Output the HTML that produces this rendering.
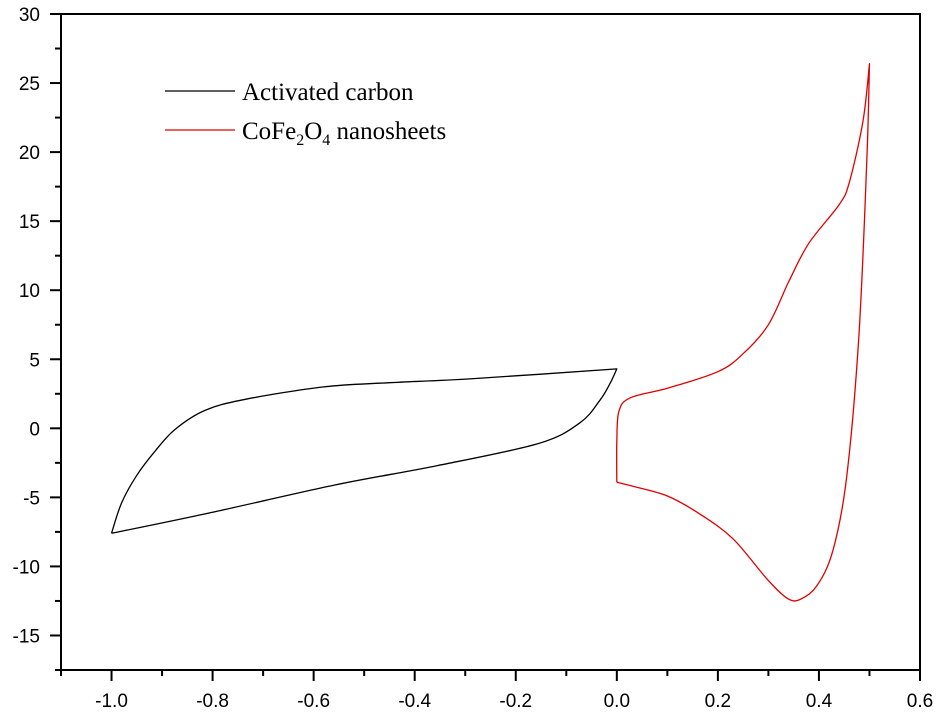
<!DOCTYPE html>
<html><head><meta charset="utf-8"><style>
body{margin:0;background:#fff}
svg{display:block}
.tk{font-family:"Liberation Sans",Arial,sans-serif;font-size:19px;fill:#000}
.lg{font-family:"Liberation Serif",serif;font-size:25px;fill:#000}
</style></head><body>
<svg id="chart" width="937" height="723">
<g id="axes"></g>
<g id="series"></g>
<g>
<line x1="165" y1="91" x2="235" y2="91" stroke="#000" stroke-width="1.3"/>
<text class="lg" x="242" y="100">Activated carbon</text>
<line x1="165" y1="130" x2="235" y2="130" stroke="#e00000" stroke-width="1.3"/>
<text class="lg" x="242" y="139">CoFe<tspan font-size="16" dy="6">2</tspan><tspan dy="-6">O</tspan><tspan font-size="16" dy="6">4</tspan><tspan dy="-6"> nanosheets</tspan></text>
</g>
</svg>
<script>
const xTicks=[-1.0,-0.8,-0.6,-0.4,-0.2,0.0,0.2,0.4,0.6];
const xTickLabels=["-1.0","-0.8","-0.6","-0.4","-0.2","0.0","0.2","0.4","0.6"];
const yTicks=[-15,-10,-5,0,5,10,15,20,25,30];
const yTickLabels=["-15","-10","-5","0","5","10","15","20","25","30"];
const carbonX=[-1.0,-0.815,-0.557,-0.355,-0.155,-0.073,-0.034,-0.014,0.0,-0.283,-0.45,-0.58,-0.735,-0.815,-0.875,-0.915,-0.95,-0.98,-1.0];
const carbonY=[-7.6,-6.2,-4.1,-2.7,-1.1,0.4,2.0,3.2,4.3,3.6,3.3,3.0,2.1,1.3,-0.1,-1.7,-3.4,-5.4,-7.6];
const cofeX=[0.0,0.0,0.004,0.026,0.1,0.2,0.25,0.3,0.34,0.38,0.44,0.46,0.487,0.5,0.495,0.479,0.455,0.428,0.396,0.362,0.337,0.297,0.23,0.164,0.1,0.032,0.0];
const cofeY=[-3.9,-1.0,1.2,2.2,2.9,4.1,5.4,7.5,10.6,13.4,16.2,17.8,22.2,26.4,19.6,6.7,-3.5,-8.8,-11.4,-12.4,-12.3,-10.9,-8.0,-6.2,-4.9,-4.2,-3.9];
const X0=-1.1,X1=0.6,PX0=61,PX1=920;
const Y0=-17.5,Y1=30,PY0=670,PY1=14;
const sx=v=>PX0+(v-X0)/(X1-X0)*(PX1-PX0);
const sy=v=>PY0+(v-Y0)/(Y1-Y0)*(PY1-PY0);
const NS="http://www.w3.org/2000/svg";
const axes=document.getElementById('axes'),ser=document.getElementById('series');
function mk(t,a,p){const e=document.createElementNS(NS,t);for(const k in a)e.setAttribute(k,a[k]);p.appendChild(e);return e;}
let fr=mk('rect',{x:PX0,y:PY1,width:PX1-PX0,height:PY0-PY1,fill:'none',stroke:'#000','stroke-width':2},axes);


for(let i=0;i<=17;i++){const v=X0+i*0.1;const x=sx(v);const major=i%2==1;
 let t=mk('line',{x1:x,y1:PY0,x2:x,y2:PY0+(major?11:6),stroke:'#000','stroke-width':2},axes);
 
 }
xTicks.forEach((v,i)=>{let t=mk('text',{x:sx(v),y:PY0+37,'text-anchor':'middle',class:'tk'},axes);t.textContent=xTickLabels[i];
 
 });
for(let i=0;i<=19;i++){const v=Y0+i*2.5;const y=sy(v);const major=i%2==1;
 let t=mk('line',{x1:PX0,y1:y,x2:PX0-(major?11:6),y2:y,stroke:'#000','stroke-width':2},axes);
 
 }
yTicks.forEach((v,i)=>{let t=mk('text',{x:PX0-21,y:sy(v)+7,'text-anchor':'end',class:'tk'},axes);t.textContent=yTickLabels[i];
 
 });
function path(xs,ys,corner){const p=xs.map((x,i)=>[sx(x),sy(ys[i])]);const n=p.length;
 const isC=i=>i===0||i===n-1||corner.includes(i);
 let d='M'+p[0][0].toFixed(1)+' '+p[0][1].toFixed(1);
 for(let i=0;i<n-1;i++){const b=p[i],c=p[i+1];const a=isC(i)?b:p[i-1];const e=isC(i+1)?c:p[i+2];
  const c1=[b[0]+(c[0]-a[0])/6,b[1]+(c[1]-a[1])/6],c2=[c[0]-(e[0]-b[0])/6,c[1]-(e[1]-b[1])/6];
  d+='C'+c1.map(v=>v.toFixed(1)).join(' ')+' '+c2.map(v=>v.toFixed(1)).join(' ')+' '+c[0].toFixed(1)+' '+c[1].toFixed(1);}
 return d;}
let c=mk('path',{d:path(carbonX,carbonY,[carbonX.indexOf(Math.max(...carbonX))]),fill:'none',stroke:'#000','stroke-width':1.3,'stroke-linejoin':'round'},ser);


let r=mk('path',{d:path(cofeX,cofeY,[cofeY.indexOf(Math.max(...cofeY))]),fill:'none',stroke:'#e00000','stroke-width':1.3,'stroke-linejoin':'round'},ser);


</script>
</body></html>
